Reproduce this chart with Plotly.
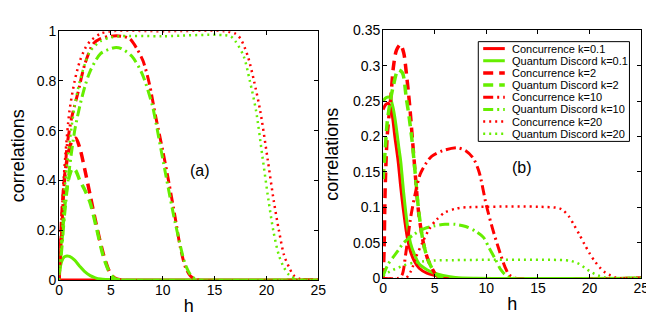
import plotly.graph_objects as go

# ---- panel (a) data ----
h_a_c01 = [0, 5, 10, 15, 20, 25]
a_c01 = [0, 0, 0, 0, 0, 0]
h_a_qd01 = [0, 0.25, 0.5, 0.75, 1, 1.5, 2, 2.5, 3, 3.5, 4, 4.5, 5, 6, 25]
a_qd01 = [0.03, 0.075, 0.093, 0.097, 0.095, 0.08, 0.055, 0.033, 0.018, 0.009, 0.004, 0.002, 0.001, 0, 0]
h_a_c2 = [0, 0.1, 0.25, 0.5, 0.75, 1, 1.25, 1.6, 2, 2.5, 3, 3.6, 4.3, 4.9, 5.3, 6, 25]
a_c2 = [0, 0.12, 0.25, 0.4, 0.48, 0.53, 0.56, 0.57, 0.53, 0.44, 0.34, 0.22, 0.1, 0.03, 0.01, 0, 0]
h_a_qd2 = [0, 0.1, 0.25, 0.5, 0.75, 1, 1.3, 1.6, 2, 2.5, 3, 3.6, 4.3, 4.9, 5.3, 6, 25]
a_qd2 = [0.02, 0.07, 0.15, 0.28, 0.37, 0.42, 0.45, 0.44, 0.4, 0.36, 0.31, 0.21, 0.09, 0.028, 0.008, 0, 0]
h_a_c10 = [0, 0.25, 0.5, 0.8, 1.2, 1.8, 2.5, 3.3, 4, 5, 6, 6.8, 7.5, 8.1, 8.7, 9.3, 10, 10.6, 11.2, 11.7, 12.2, 12.7, 13.5, 25]
a_c10 = [0, 0.2, 0.4, 0.55, 0.65, 0.75, 0.87, 0.95, 0.97, 0.98, 0.98, 0.97, 0.93, 0.88, 0.79, 0.66, 0.52, 0.39, 0.25, 0.13, 0.05, 0.015, 0, 0]
h_a_qd10 = [0, 0.25, 0.5, 1, 1.5, 2, 2.5, 3, 4, 5, 5.5, 6, 7, 8, 9, 9.35, 10.3, 11.2, 12.2, 12.8, 13.5, 25]
a_qd10 = [0.02, 0.12, 0.25, 0.45, 0.6, 0.7, 0.78, 0.84, 0.91, 0.93, 0.935, 0.93, 0.9, 0.83, 0.7, 0.63, 0.42, 0.23, 0.06, 0.015, 0, 0]
h_a_c20 = [0, 0.3, 0.6, 1, 1.5, 2, 2.5, 3, 4, 5, 10, 16, 17, 17.5, 18.2, 18.8, 19.4, 20.1, 20.7, 21.2, 21.7, 22.2, 22.6, 23.2, 24, 25]
a_c20 = [0, 0.3, 0.5, 0.68, 0.8, 0.88, 0.93, 0.96, 0.99, 1.0, 1.0, 1.0, 0.99, 0.97, 0.9, 0.8, 0.68, 0.49, 0.32, 0.2, 0.1, 0.05, 0.02, 0.005, 0, 0]
h_a_qd20 = [0, 0.3, 0.5, 1, 1.5, 2, 2.5, 3, 4, 5, 6, 10, 16.5, 17, 17.8, 18.4, 19, 19.6, 20.2, 20.7, 21.2, 21.7, 22.2, 23, 24, 25]
a_qd20 = [0, 0.2, 0.35, 0.55, 0.7, 0.8, 0.87, 0.92, 0.96, 0.975, 0.98, 0.98, 0.98, 0.96, 0.9, 0.8, 0.68, 0.5, 0.32, 0.19, 0.1, 0.05, 0.02, 0.003, 0, 0]

# ---- panel (b) data ----
h_b_c01 = [0, 0.25, 0.5, 0.82, 1.14, 1.46, 1.71, 2, 2.35, 2.65, 3, 3.5, 4.25, 5, 5.8, 7, 25]
b_c01 = [0.238, 0.245, 0.247, 0.236, 0.2, 0.165, 0.129, 0.093, 0.057, 0.038, 0.025, 0.014, 0.007, 0.004, 0.002, 0, 0]
h_b_qd01 = [0, 0.3, 0.67, 0.9, 1.14, 1.55, 1.71, 2, 2.35, 2.65, 3, 3.5, 4.25, 5, 5.8, 7, 9, 25]
b_qd01 = [0.25, 0.255, 0.255, 0.245, 0.227, 0.182, 0.165, 0.12, 0.075, 0.05, 0.035, 0.02, 0.012, 0.007, 0.004, 0.001, 0, 0]
h_b_c2 = [0, 0.1, 0.2, 0.4, 0.75, 1, 1.3, 1.68, 2, 2.25, 2.57, 2.85, 3.1, 3.45, 3.9, 4.3, 4.7, 5.1, 5.6, 25]
b_c2 = [0, 0.04, 0.125, 0.2, 0.255, 0.298, 0.322, 0.33, 0.318, 0.29, 0.245, 0.195, 0.15, 0.092, 0.05, 0.028, 0.015, 0.005, 0, 0]
h_b_qd2 = [0, 0.2, 0.4, 0.7, 1, 1.46, 1.87, 2.25, 2.5, 2.8, 3.1, 3.45, 3.9, 4.3, 4.7, 5.1, 5.6, 25]
b_qd2 = [0.14, 0.18, 0.22, 0.25, 0.272, 0.294, 0.29, 0.254, 0.23, 0.195, 0.15, 0.095, 0.05, 0.028, 0.015, 0.006, 0.001, 0]
h_b_c10 = [0, 1.5, 1.85, 2.2, 2.7, 3.2, 3.6, 4.2, 4.7, 5.8, 7.2, 8, 8.75, 9.3, 10, 10.6, 11.3, 11.8, 12.2, 12.8, 25]
b_c10 = [0, 0, 0.005, 0.035, 0.088, 0.125, 0.147, 0.163, 0.172, 0.18, 0.184, 0.18, 0.169, 0.15, 0.103, 0.07, 0.037, 0.016, 0.005, 0, 0]
h_b_qd10 = [0, 0.5, 1, 1.5, 2, 3, 4, 5, 6, 7, 8, 9, 9.7, 10.3, 10.9, 11.4, 11.9, 12.5, 25]
b_qd10 = [0.003, 0.02, 0.03, 0.04, 0.05, 0.062, 0.07, 0.074, 0.076, 0.076, 0.073, 0.066, 0.058, 0.042, 0.026, 0.012, 0.004, 0, 0]
h_b_c20 = [0, 2.2, 2.7, 3.2, 3.8, 4.5, 5.2, 6, 7, 8, 17, 17.5, 18, 18.5, 19, 19.5, 20, 20.5, 21, 21.5, 22, 22.5, 23, 25]
b_c20 = [0, 0, 0.01, 0.03, 0.05, 0.07, 0.083, 0.093, 0.098, 0.1, 0.099, 0.095, 0.087, 0.075, 0.062, 0.048, 0.035, 0.024, 0.015, 0.008, 0.004, 0.001, 0, 0]
h_b_qd20 = [0, 0.5, 1, 1.5, 2, 3, 4, 5, 18, 18.5, 19, 19.5, 20, 20.5, 21, 21.5, 22, 25]
b_qd20 = [0.003, 0.008, 0.012, 0.015, 0.018, 0.022, 0.024, 0.025, 0.025, 0.023, 0.02, 0.015, 0.01, 0.006, 0.003, 0.001, 0, 0]

labels = ["Concurrence k=0.1", "Quantum Discord k=0.1",
          "Concurrence k=2", "Quantum Discord k=2",
          "Concurrence k=10", "Quantum Discord k=10",
          "Concurrence k=20", "Quantum Discord k=20"]

RED = "#ff0000"
GREEN = "#66ee00"
# (colour, dash, width) per series, same order as labels
styles = [
    (RED, "solid", 3), (GREEN, "solid", 3),
    (RED, "10px,6px", 3.5), (GREEN, "10px,6px", 3.5),
    (RED, "10px,4px,2px,4px", 3), (GREEN, "10px,4px,2px,4px", 3),
    (RED, "2px,4px", 2.5), (GREEN, "2px,4px", 2.5),
]

panel_a = [(h_a_c01, a_c01), (h_a_qd01, a_qd01), (h_a_c2, a_c2), (h_a_qd2, a_qd2),
           (h_a_c10, a_c10), (h_a_qd10, a_qd10), (h_a_c20, a_c20), (h_a_qd20, a_qd20)]
panel_b = [(h_b_c01, b_c01), (h_b_qd01, b_qd01), (h_b_c2, b_c2), (h_b_qd2, b_qd2),
           (h_b_c10, b_c10), (h_b_qd10, b_qd10), (h_b_c20, b_c20), (h_b_qd20, b_qd20)]

fig = go.Figure()

for panel, xa, ya in [(panel_a, "x", "y"), (panel_b, "x2", "y2")]:
    for (hx, vy), name, (col, dash, w) in zip(panel, labels, styles):
        fig.add_trace(go.Scatter(x=hx, y=vy, mode="lines", name=name,
                                 xaxis=xa, yaxis=ya, showlegend=False,
                                 line=dict(color=col, dash=dash, width=w,
                                           shape="spline", smoothing=0.8)))

# legend drawn by hand so it stays as compact as the original box
W, H = 654.0, 320.0
shapes = [dict(type="rect", xref="paper", yref="paper",
               x0=475 / W, x1=629 / W, y0=1 - 132 / H, y1=1 - 27 / H,
               line=dict(color="black", width=1), fillcolor="white", layer="above")]
annotations = []
for i, (name, (col, dash, w)) in enumerate(zip(labels, styles)):
    yy = 1 - (34.3 + 12.8 * i) / H
    shapes.append(dict(type="line", xref="paper", yref="paper",
                       x0=480 / W, x1=502 / W, y0=yy, y1=yy, layer="above",
                       line=dict(color=col, dash=dash, width=w)))
    annotations.append(dict(text=name, xref="paper", yref="paper", x=507 / W, y=yy,
                            xanchor="left", yanchor="middle", showarrow=False,
                            font=dict(size=11, color="black")))

annotations.append(dict(text="(a)", xref="x", yref="y", x=13.6, y=0.44,
                        showarrow=False, font=dict(size=16, color="black")))
annotations.append(dict(text="(b)", xref="x2", yref="y2", x=13.5, y=0.156,
                        showarrow=False, font=dict(size=16, color="black")))

axis_style = dict(showline=True, linecolor="black", linewidth=1, mirror="ticks",
                  ticks="inside", ticklen=4, tickcolor="black", showgrid=False,
                  zeroline=False, tickfont=dict(size=14, color="black"))
xt = dict(text="h", font=dict(size=18), standoff=2)
yt = dict(text="correlations", font=dict(size=18), standoff=9)

fig.update_layout(
    width=654, height=320,
    margin=dict(l=0, r=0, t=0, b=0),
    paper_bgcolor="white", plot_bgcolor="white",
    font=dict(family="Liberation Sans, Arial, sans-serif", color="black"),
    showlegend=False,
    xaxis=dict(domain=[48 / W, 312 / W], range=[0, 25], dtick=5, anchor="y",
               ticklabelstandoff=-3, title=xt, **axis_style),
    yaxis=dict(domain=[1 - 278 / H, 1 - 16 / H], range=[0, 1], dtick=0.2, anchor="x",
               ticklabelstandoff=-1, title=yt, **axis_style),
    xaxis2=dict(domain=[378 / W, 641 / W], range=[0, 25], dtick=5, anchor="y2",
                ticklabelstandoff=-3, title=xt, **axis_style),
    yaxis2=dict(domain=[1 - 276 / H, 1 - 15 / H], range=[0, 0.35], dtick=0.05, anchor="x2",
                ticklabelstandoff=-1, title=yt, **axis_style),
    shapes=shapes,
    annotations=annotations,
)

fig.write_html("out.html")
